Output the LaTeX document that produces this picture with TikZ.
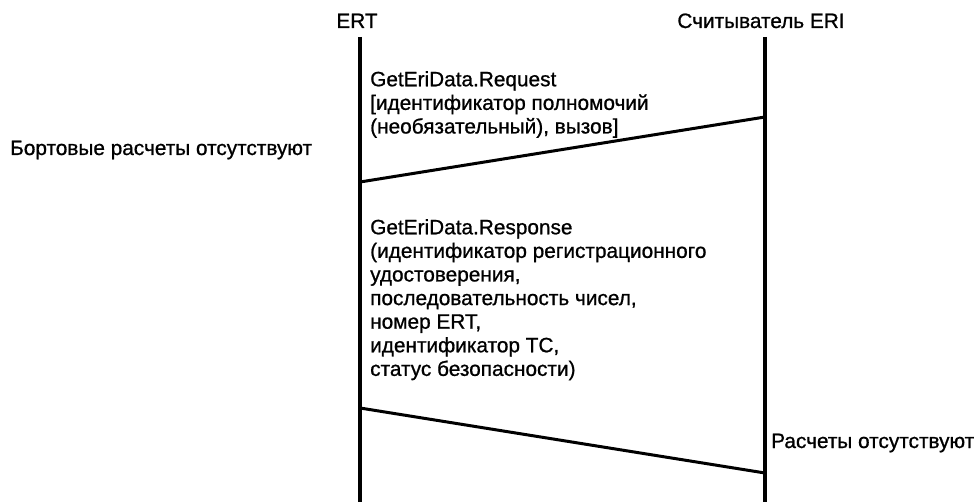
\documentclass[tikz,border=0pt]{standalone}
\usepackage{fontspec}
\setmainfont{Liberation Sans}[FakeBold=0.9,AutoFakeBold=0.9]
\begin{document}
\begin{tikzpicture}[x=1pt,y=-1pt,
  txt/.style={inner sep=0pt, font=\fontsize{20.8}{23.6}\selectfont\bfseries},
  msgtxt/.style={txt, align=left, anchor=north west},
  lifeline/.style={line width=3.2pt},
  msgline/.style={line width=3pt}]
  \useasboundingbox (0,0) rectangle (976,502);

  % participants
  \node[txt, anchor=base] (ert) at (357,28) {ERT};
  \node[txt, anchor=base] (eri) at (761,28) {Считыватель ERI};

  % lifeline ends
  \coordinate (ertTop) at (360,37);
  \coordinate (ertBot) at (360,502);
  \coordinate (eriTop) at (765,37);
  \coordinate (eriBot) at (765,502);
  \draw[lifeline] (ertTop) -- (ertBot);
  \draw[lifeline] (eriTop) -- (eriBot);

  % request message
  \coordinate (reqFrom) at (765,117);
  \coordinate (reqTo) at (360,182);
  \draw[msgline] (reqFrom) -- (reqTo);
  \node[msgtxt] (req) at (370,71) {GetEriData.Request\\{[}идентификатор полномочий\\(необязательный), вызов{]}};

  % response message
  \coordinate (resFrom) at (360,408);
  \coordinate (resTo) at (765,473);
  \draw[msgline] (resFrom) -- (resTo);
  \node[msgtxt] (res) at (370,219) {GetEriData.Response\\(идентификатор регистрационного\\удостоверения,\\последовательность чисел,\\номер ERT,\\идентификатор ТС,\\статус безопасности)};

  % side notes
  \node[txt, anchor=base west] (onboard) at (10,155) {Бортовые расчеты отсутствуют};
  \node[txt, anchor=base west] (nocalc) at (771,448) {Расчеты отсутствуют};
\end{tikzpicture}
\end{document}
